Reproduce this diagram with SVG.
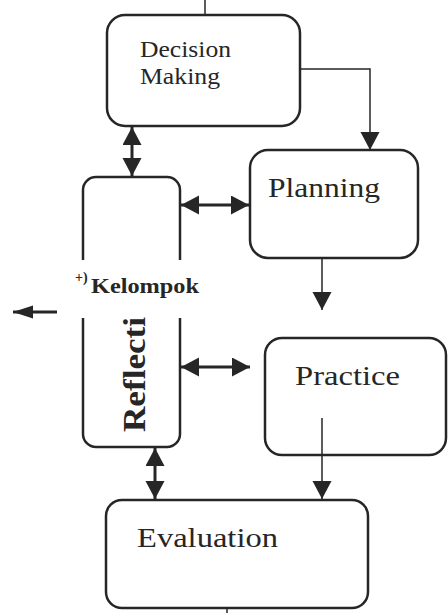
<svg xmlns="http://www.w3.org/2000/svg" width="448" height="613" viewBox="0 0 448 613">
<style>
.box{fill:none;stroke:#262626;stroke-width:2.5}
.lbl{font-family:"Liberation Serif","Times New Roman",Times,serif;fill:#262626}
.thin{fill:none;stroke:#262626;stroke-width:1.5}
.thick{fill:none;stroke:#262626;stroke-width:3}
</style>
<defs>
<marker id="ah" markerUnits="userSpaceOnUse" markerWidth="20" markerHeight="20" refX="18" refY="9.5" orient="auto-start-reverse" viewBox="0 0 20 20">
<path d="M0,0 L18,9.5 L0,19 z" fill="#262626"/>
</marker>
<marker id="ahs" markerUnits="userSpaceOnUse" markerWidth="22" markerHeight="14" refX="20" refY="6.5" orient="auto" viewBox="0 0 22 14">
<path d="M0,0 L20,6.5 L0,13 z" fill="#262626"/>
</marker>
</defs>
<g id="connectors">
<path class="thin" d="M205,0 V15"/>
<path class="thin" d="M300,69 H370 V150" marker-end="url(#ah)"/>
<path class="thick" d="M132,127 V176" marker-start="url(#ah)" marker-end="url(#ah)"/>
<path class="thick" d="M181,205 H249" marker-start="url(#ah)" marker-end="url(#ah)"/>
<path class="thick" d="M181,367 H250" marker-start="url(#ah)" marker-end="url(#ah)"/>
<path class="thin" d="M322,258 V310" marker-end="url(#ah)"/>
<path class="thin" d="M322,418 V499" marker-end="url(#ah)"/>
<path class="thick" d="M155,448 V499" marker-start="url(#ah)" marker-end="url(#ah)"/>
<path class="thick" d="M57,312 H13" marker-end="url(#ahs)"/>
<path class="thin" d="M227,608 V613"/>
</g>
<g id="decision">
<rect class="box" x="107" y="15" width="193" height="111" rx="18"/>
<text class="lbl" x="140" y="57" font-size="23" textLength="91" lengthAdjust="spacingAndGlyphs">Decision</text>
<text class="lbl" x="140" y="84" font-size="23" textLength="80" lengthAdjust="spacingAndGlyphs">Making</text>
</g>
<g id="planning">
<rect class="box" x="250" y="150" width="168" height="108" rx="18"/>
<text class="lbl" x="268" y="197" font-size="28" textLength="112" lengthAdjust="spacingAndGlyphs">Planning</text>
</g>
<g id="reflection">
<path class="box" d="M83,260 V190 A13,13 0 0 1 96,177 H167 A13,13 0 0 1 180,190 V260 M180,318 V434 A13,13 0 0 1 167,447 H96 A13,13 0 0 1 83,434 V318"/>
<text class="lbl" font-size="32" font-weight="bold" transform="translate(145,432) rotate(-90)" textLength="115" lengthAdjust="spacingAndGlyphs">Reflecti</text>
</g>
<g id="kelompok">
<text class="lbl" x="75" y="282" font-size="14" font-weight="bold" fill="#000">+)</text>
<text class="lbl" x="91" y="293" font-size="22" font-weight="bold" textLength="108" lengthAdjust="spacingAndGlyphs">Kelompok</text>
</g>
<g id="practice">
<rect class="box" x="265" y="338" width="181" height="117" rx="17"/>
<text class="lbl" x="295" y="385" font-size="28" textLength="105" lengthAdjust="spacingAndGlyphs">Practice</text>
</g>
<g id="evaluation">
<rect class="box" x="106" y="500" width="262" height="108" rx="16"/>
<text class="lbl" x="137" y="547" font-size="28" textLength="141" lengthAdjust="spacingAndGlyphs">Evaluation</text>
</g>
</svg>
